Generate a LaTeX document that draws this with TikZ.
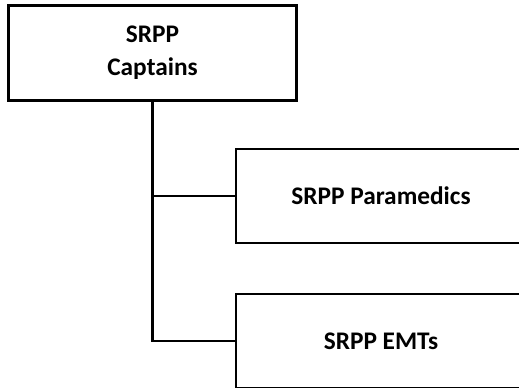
\documentclass[tikz,border=0pt]{standalone}
\usepackage{fontspec}
\setmainfont{Carlito}
\usepackage{tikz}
\usetikzlibrary{positioning}
\tikzset{
  % Box styles
  headbox/.style={rectangle, draw=black, line width=2.2pt, fill=white, minimum width=216pt, minimum height=71pt, font=\fontsize{19}{25}\selectfont\bfseries, align=center, inner sep=0pt},
  unitbox/.style={rectangle, draw=black, line width=1.4pt, fill=white, minimum width=217.5pt, minimum height=71pt, font=\fontsize{19}{25}\selectfont\bfseries, align=center, inner sep=0pt},
  % Line styles
  link/.style={draw=black, line width=1.6pt}
}
\begin{document}
\begin{tikzpicture}[x=0.75pt, y=-0.75pt]
  \useasboundingbox (0,0) rectangle (519,387);
  \clip (0,0) rectangle (519,387);

  % Boxes
  \node[headbox] (captains) at (152.5,53) {SRPP\\Captains};
  \node[unitbox] (paramedics) at (381,196) {SRPP Paramedics};
  \node[unitbox] (emts) at (381,341) {SRPP EMTs};

  % Connectors
  \draw[link] (captains.south) |- (paramedics.west);
  \draw[link] (captains.south) |- (emts.west);
\end{tikzpicture}
\end{document}
